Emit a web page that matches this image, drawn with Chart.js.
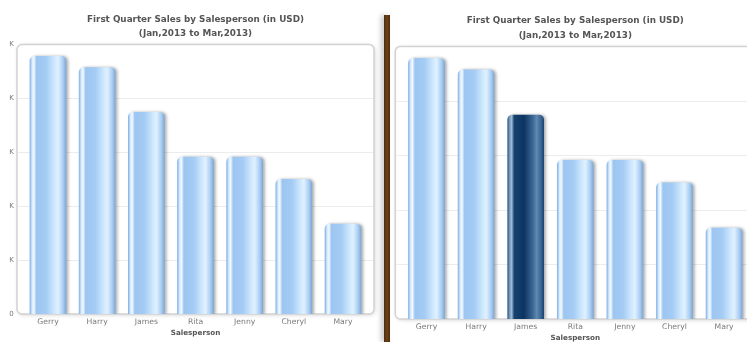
<!DOCTYPE html>
<html>
<head>
<meta charset="utf-8">
<title>First Quarter Sales by Salesperson</title>
<script src="https://cdn.jsdelivr.net/npm/chart.js@4.4.0/dist/chart.umd.min.js"></script>
<style>
  body { margin: 0; background: #fff; width: 747px; height: 342px; overflow: hidden; position: relative; }
  .pane { position: absolute; top: 0; height: 342px; overflow: hidden; }
  #leftPane { left: 9px; width: 373px; }
  #rightPane { left: 391px; width: 356px; }
  #leftPane canvas { position: absolute; left: -39px; top: 0; }
  #rightPane canvas { position: absolute; left: 0; top: 0; }
  #divider {
    position: absolute; left: 384px; top: 15px; width: 6px; height: 327px;
    background: linear-gradient(to right, #4d2d0e, #6a421a 50%, #4d2d0e);
    box-shadow: -3px 0 5px rgba(0, 0, 0, 0.22);
  }
</style>
</head>
<body>
<div class="pane" id="leftPane"><canvas id="salesChart" width="410" height="342"></canvas></div>
<div id="divider"></div>
<div class="pane" id="rightPane"><canvas id="salesChartHighlight" width="380" height="350"></canvas></div>

<script>
const salespeople = ['Gerry', 'Harry', 'James', 'Rita', 'Jenny', 'Cheryl', 'Mary'];
const sales = [47800, 45700, 37400, 29100, 29100, 25000, 16700];
const yMax = 50000;
const yStep = 10000;
const chartTitle = 'First Quarter Sales by Salesperson (in USD)';
const chartSubtitle = '(Jan,2013 to Mar,2013)';
const xAxisTitle = 'Salesperson';
const highlighted = 'James';

const FONT = "'DejaVu Sans', Verdana, sans-serif";
const BAR_WIDTH = 36;

// cylinder-looking fills, left to right across each bar
const lightStops = [
  [0, '#86b4e6'], [0.06, '#d8ecff'], [0.11, '#f2f9ff'], [0.18, '#9cc5f1'],
  [0.45, '#a4ccf4'], [0.7, '#d2eaff'], [0.78, '#e0f1ff'], [0.92, '#a9cdf2'], [1, '#7fa9d8']
];
const darkStops = [
  [0, '#2d5c8c'], [0.06, '#7f9fc2'], [0.11, '#a3bad3'], [0.18, '#16426f'],
  [0.45, '#0c3462'], [0.7, '#3b6895'], [0.8, '#5f87b0'], [0.92, '#3d6894'], [1, '#1b4573']
];

function barFill(highlightName) {
  return (ctx) => {
    const chart = ctx.chart;
    const x = chart.scales && chart.scales.x;
    if (!chart.chartArea || !x || ctx.dataIndex === undefined) return '#a9cff5';
    const cx = x.getPixelForValue(ctx.dataIndex);
    const g = chart.ctx.createLinearGradient(cx - BAR_WIDTH / 2, 0, cx + BAR_WIDTH / 2, 0);
    const stops = salespeople[ctx.dataIndex] === highlightName ? darkStops : lightStops;
    stops.forEach(s => g.addColorStop(s[0], s[1]));
    return g;
  };
}

// rounded canvas box + horizontal divisions, a little wider than the bar area
const canvasBox = {
  id: 'canvasBox',
  beforeDraw(chart) {
    const {ctx, chartArea: a, scales: {y}} = chart;
    const x0 = a.left - 6.4, x1 = a.right + 6.4;
    ctx.save();
    ctx.shadowColor = 'rgba(0,0,0,0.18)';
    ctx.shadowBlur = 4;
    ctx.shadowOffsetX = 1;
    ctx.shadowOffsetY = 1;
    ctx.beginPath();
    ctx.roundRect(x0, a.top, x1 - x0, a.bottom - a.top, 5);
    ctx.fillStyle = '#fff';
    ctx.fill();
    ctx.shadowColor = 'transparent';
    ctx.lineWidth = 1.5;
    ctx.strokeStyle = '#d2d2d2';
    ctx.stroke();
    ctx.lineWidth = 1;
    ctx.strokeStyle = '#ececec';
    y.ticks.forEach(t => {
      if (t.value <= 0 || t.value >= yMax) return;
      const py = Math.round(y.getPixelForValue(t.value)) + 0.5;
      ctx.beginPath();
      ctx.moveTo(x0 + 1, py);
      ctx.lineTo(x1 - 1, py);
      ctx.stroke();
    });
    ctx.restore();
  },
  beforeDatasetsDraw(chart) {
    const ctx = chart.ctx;
    ctx.save();
    ctx.shadowColor = 'rgba(0,0,0,0.3)';
    ctx.shadowBlur = 3;
    ctx.shadowOffsetX = 2;
    ctx.shadowOffsetY = 0;
  },
  afterDatasetsDraw(chart) {
    chart.ctx.restore();
  }
};

function makeChart(id, p) {
  return new Chart(document.getElementById(id), {
    type: 'bar',
    data: {
      labels: salespeople,
      datasets: [{
        data: sales,
        backgroundColor: barFill(p.highlight),
        barThickness: BAR_WIDTH,
        borderRadius: {topLeft: 5, topRight: 5, bottomLeft: 0, bottomRight: 0},
        borderSkipped: 'bottom'
      }]
    },
    options: {
      responsive: false,
      animation: false,
      layout: {padding: {left: p.padLeft, right: p.padRight, top: 0, bottom: 0}},
      plugins: {
        legend: {display: false},
        tooltip: {enabled: false},
        title: {
          display: true, text: chartTitle, fullSize: false, color: '#555',
          font: {family: FONT, size: 8.8, weight: 'bold'},
          padding: {top: p.titleTop, bottom: 2}
        },
        subtitle: {
          display: true, text: chartSubtitle, fullSize: false, color: '#555',
          font: {family: FONT, size: 8.8, weight: 'bold'},
          padding: {top: p.subTop, bottom: p.subBottom}
        }
      },
      scales: {
        x: {
          grid: {display: false, drawTicks: false},
          border: {display: false},
          ticks: {color: '#7a7a7a', font: {family: FONT, size: 7.7}, padding: 3.4},
          title: {
            display: true, text: xAxisTitle, color: '#555',
            font: {family: FONT, size: 7.2, weight: 'bold'},
            padding: {top: 0, bottom: p.xTitleBottom}
          },
          afterFit(scale) { scale.height = p.xHeight; }
        },
        y: {
          display: p.showY,
          min: 0,
          max: yMax,
          grid: {display: false, drawTicks: false},
          border: {display: false},
          ticks: {
            stepSize: yStep,
            color: '#7a7a7a',
            font: {family: FONT, size: 7},
            padding: 9.6,
            callback: v => v === 0 ? '0' : (v / 1000) + 'K'
          },
          afterFit(scale) { if (p.showY) scale.width = p.yWidth; }
        }
      }
    },
    plugins: [canvasBox]
  });
}

makeChart('salesChart', {
  highlight: null, showY: true, yWidth: 53.4,
  padLeft: 0, padRight: 12.4,
  titleTop: 14.4, subTop: 1.5, subBottom: 5.5,
  xHeight: 28, xTitleBottom: 4.5
});

makeChart('salesChartHighlight', {
  highlight: highlighted, showY: false, yWidth: 0,
  padLeft: 10.7, padRight: 22.1,
  titleTop: 15.4, subTop: 2, subBottom: 5.9,
  xHeight: 31, xTitleBottom: 7.5
});
</script>
</body>
</html>
